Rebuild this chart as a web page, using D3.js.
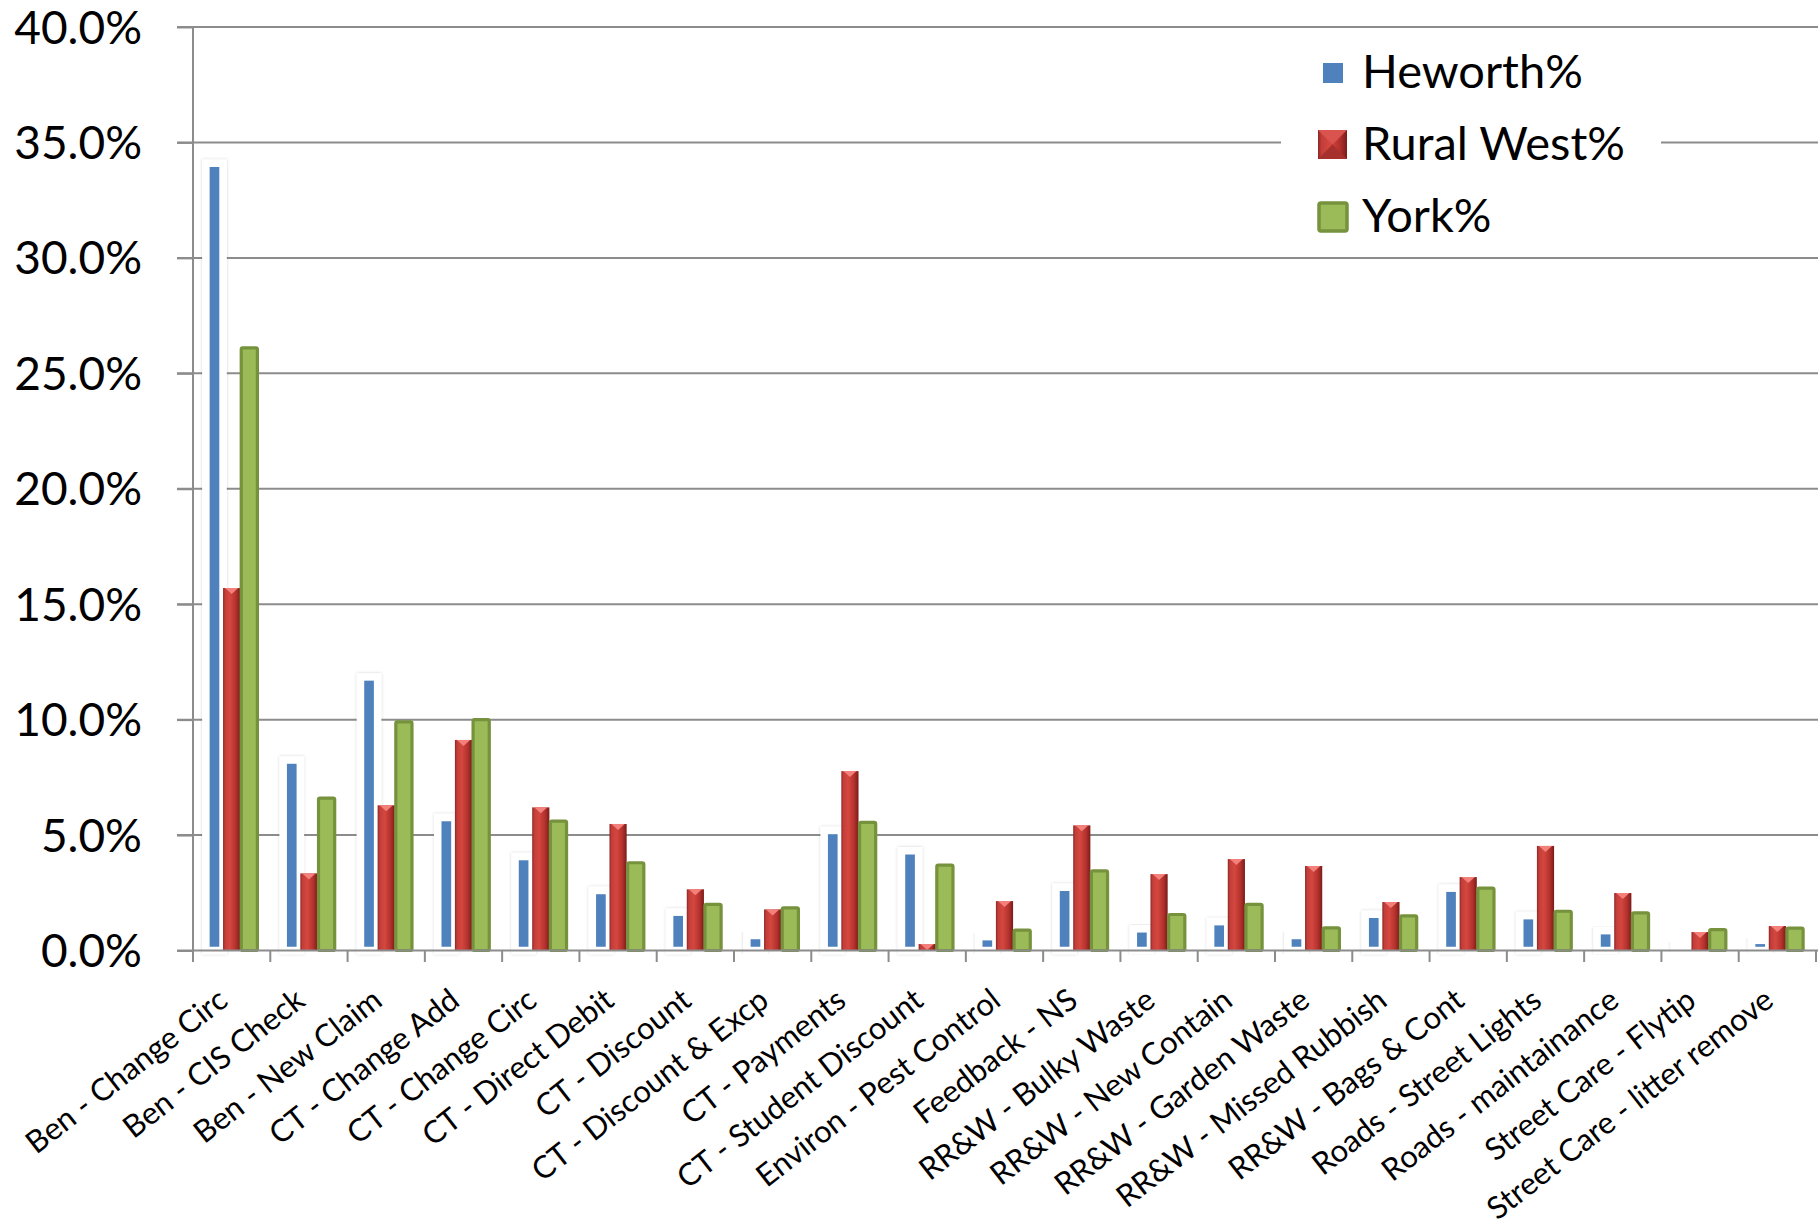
<!DOCTYPE html>
<html>
<head>
<meta charset="utf-8">
<script src="https://cdn.jsdelivr.net/npm/d3@7"></script>
<style>
  body { margin: 0; background: #fff; }
  text { font-family: Lato, "Open Sans", sans-serif; fill: #000; }
</style>
</head>
<body>
<svg id="chart"></svg>
<script>
const categories = [
  'Ben - Change Circ', 'Ben - CIS Check', 'Ben - New Claim', 'CT - Change Add',
  'CT - Change Circ', 'CT - Direct Debit', 'CT - Discount', 'CT - Discount & Excp',
  'CT - Payments', 'CT - Student Discount', 'Environ - Pest Control', 'Feedback - NS',
  'RR&W - Bulky Waste', 'RR&W - New Contain', 'RR&W - Garden Waste', 'RR&W - Missed Rubbish',
  'RR&W - Bags & Cont', 'Roads - Street Lights', 'Roads - maintainance', 'Street Care - Flytip',
  'Street Care - litter remove'
];
const series = ['Heworth%', 'Rural West%', 'York%'];
const heworth = [34.1, 8.25, 11.85, 5.76, 4.07, 2.6, 1.66, 0.65, 5.2, 4.32, 0.6, 2.74,
  0.94, 1.25, 0.65, 1.57, 2.7, 1.51, 0.86, 0.3, 0.44];
const ruralWest = [15.7, 3.34, 6.29, 9.12, 6.2, 5.48, 2.65, 1.78, 7.77, 0.28, 2.14, 5.42,
  3.31, 3.96, 3.66, 2.1, 3.18, 4.53, 2.49, 0.8, 1.06];
const york = [26.1, 6.6, 9.9, 10.0, 5.6, 3.8, 2.0, 1.85, 5.55, 3.7, 0.88, 3.45,
  1.56, 2.0, 0.98, 1.5, 2.7, 1.7, 1.63, 0.9, 0.97];
const yTicks = [0, 5, 10, 15, 20, 25, 30, 35, 40];

const W = 1818, H = 1231;
const svg = d3.select('#chart').attr('width', W).attr('height', H);

const defs = svg.append('defs');
const rg = defs.append('linearGradient').attr('id', 'redGrad').attr('x1', 0).attr('x2', 1).attr('y1', 0).attr('y2', 0);
[[0, '#8a2623'], [0.12, '#c33d39'], [0.4, '#d4473f'], [0.75, '#b3312d'], [1, '#7a1c1a']]
  .forEach(([o, c]) => rg.append('stop').attr('offset', o).attr('stop-color', c));
const sh = defs.append('filter').attr('id', 'glow').attr('x', -0.5).attr('y', -0.2).attr('width', 2).attr('height', 1.4);
sh.append('feDropShadow').attr('dx', 0).attr('dy', 0).attr('stdDeviation', 1.6)
  .attr('flood-color', '#000').attr('flood-opacity', 0.18);

const y = d3.scaleLinear().domain([0, 40]).range([950.5, 27]);
const x = d3.scaleBand().domain(categories).range([193, 1816]);
const x1 = d3.scaleBand().domain(series).range([0, x.bandwidth()]).paddingInner(0).paddingOuter(0.75);

// gridlines
svg.append('g')
  .selectAll('line').data(yTicks.slice(1)).join('line')
  .attr('x1', 177).attr('x2', W).attr('y1', d => y(d)).attr('y2', d => y(d))
  .attr('stroke', '#8c8c8c').attr('stroke-width', 2);

// y axis
const yAxis = svg.append('g').attr('transform', 'translate(193,0)')
  .call(d3.axisLeft(y).tickValues(yTicks).tickSize(16).tickFormat(d => d.toFixed(1) + '%'));
yAxis.select('.domain').remove();
yAxis.selectAll('.tick line').attr('stroke', '#8c8c8c').attr('stroke-width', 2);
yAxis.selectAll('.tick text').attr('x', -51).attr('dy', '0.35em')
  .style('font-size', '46px').style('font-family', 'Lato, sans-serif');
svg.append('line').attr('x1', 193).attr('x2', 193).attr('y1', 27).attr('y2', 962)
  .attr('stroke', '#8c8c8c').attr('stroke-width', 2);

// legend box (covers gridline)
svg.append('rect').attr('x', 1281).attr('y', 32).attr('width', 380).attr('height', 222).attr('fill', '#fff');

const bw = x1.bandwidth();
const groups = svg.append('g').selectAll('g').data(categories).join('g')
  .attr('transform', d => `translate(${x(d)},0)`);

// Heworth: blue with thick white outline
groups.append('rect')
  .attr('x', x1('Heworth%')).attr('width', bw)
  .attr('y', (d, i) => y(heworth[i]))
  .attr('height', (d, i) => y(0) - y(heworth[i]))
  .attr('fill', '#4f81bd').attr('stroke', '#fff').attr('stroke-width', 7.5)
  .attr('filter', 'url(#glow)');

// Rural West: beveled red
groups.append('rect')
  .attr('x', x1('Rural West%')).attr('width', bw)
  .attr('y', (d, i) => y(ruralWest[i]))
  .attr('height', (d, i) => y(0) - y(ruralWest[i]))
  .attr('fill', 'url(#redGrad)');
groups.append('path')
  .attr('d', (d, i) => {
    const x0 = x1('Rural West%'), t = y(ruralWest[i]);
    const h = Math.min(6, y(0) - t);
    return `M${x0 + 2},${t} L${x0 + bw - 2},${t} L${x0 + bw / 2},${t + h} Z`;
  })
  .attr('fill', '#f3807b');

// York: green with darker border
groups.append('rect')
  .attr('x', x1('York%') + 1).attr('width', bw - 1)
  .attr('y', (d, i) => y(york[i]))
  .attr('height', (d, i) => y(0) - y(york[i]))
  .attr('rx', 1.5)
  .attr('fill', '#9bbb59').attr('stroke', '#76923c').attr('stroke-width', 3.2);

// baseline
svg.append('line').attr('x1', 177).attr('x2', 1818).attr('y1', y(0)).attr('y2', y(0))
  .attr('stroke', '#8c8c8c').attr('stroke-width', 2);

// x axis ticks and labels
const xTicks = categories.map(c => x(c)).concat([x.range()[1]]);
svg.append('g').selectAll('line').data(xTicks).join('line')
  .attr('x1', d => d).attr('x2', d => d).attr('y1', y(0)).attr('y2', 962)
  .attr('stroke', '#8c8c8c').attr('stroke-width', 2);

svg.append('g').selectAll('text').data(categories).join('text')
  .attr('transform', d => `translate(${x(d) + x.bandwidth() / 2 - 2},1004) rotate(-38)`)
  .attr('text-anchor', 'end')
  .style('font-size', '31px')
  .text(d => d);

// legend
const legend = svg.append('g');
const ly = [88, 160, 232];
legend.selectAll('text').data(series).join('text')
  .attr('x', 1362).attr('y', (d, i) => ly[i])
  .style('font-size', '47px')
  .text(d => d);
legend.append('rect').attr('x', 1323).attr('y', 63).attr('width', 20).attr('height', 20).attr('fill', '#4f81bd');
legend.append('rect').attr('x', 1318).attr('y', 130).attr('width', 29).attr('height', 29).attr('fill', 'url(#redGrad)');
legend.append('path').attr('d', 'M1318,130 L1347,130 L1332.5,144.5 Z').attr('fill', '#d9544f');
legend.append('path').attr('d', 'M1318,159 L1347,159 L1332.5,144.5 Z').attr('fill', '#a5302c');
legend.append('rect').attr('x', 1319).attr('y', 203).attr('width', 28).attr('height', 28).attr('rx', 2)
  .attr('fill', '#9bbb59').attr('stroke', '#76923c').attr('stroke-width', 3.5);
</script>
</body>
</html>
